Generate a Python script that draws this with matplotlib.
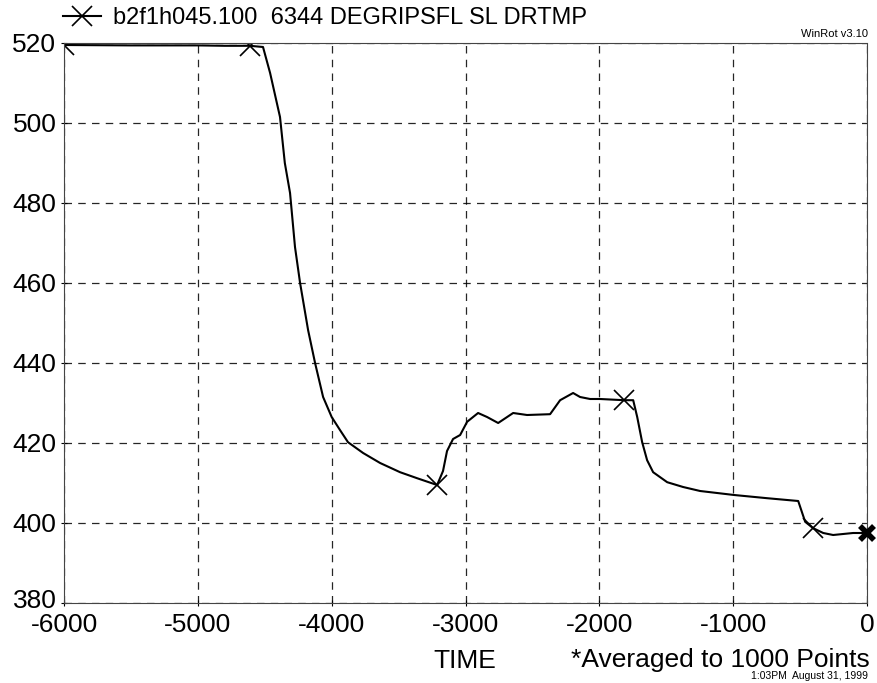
import matplotlib
matplotlib.use("Agg")
import matplotlib.pyplot as plt
from matplotlib.lines import Line2D
from matplotlib.transforms import ScaledTranslation

plt.rcParams['font.family'] = ['Liberation Sans', 'DejaVu Sans']

# ---- data ----
time = [-6000, -5500, -5000, -4800, -4610, -4513, -4460, -4386, -4350, -4311,
        -4274, -4236, -4176, -4124, -4064, -4000, -3937, -3878, -3765, -3638,
        -3489, -3362, -3212, -3168, -3138, -3093, -3040, -2988, -2906, -2839,
        -2756, -2644, -2540, -2368, -2293, -2196, -2144, -2069, -1994, -1815,
        -1747, -1717, -1680, -1643, -1598, -1493, -1374, -1247, -993, -746,
        -514, -484, -462, -402, -327, -253, -104, 0]
temp = [519.5, 519.4, 519.4, 519.3, 519.3, 519.0, 512.5, 501.5, 490.0, 482.5,
        469.0, 460.0, 448.2, 440.0, 431.5, 426.5, 423.2, 420.2, 417.5, 415.0,
        412.7, 411.2, 409.5, 413.0, 418.0, 421.0, 422.0, 425.3, 427.5, 426.5,
        425.0, 427.5, 427.0, 427.2, 430.7, 432.5, 431.5, 431.0, 431.0, 430.7,
        430.7, 426.5, 420.2, 415.7, 412.7, 410.2, 409.0, 408.0, 407.0, 406.2,
        405.5, 402.5, 400.3, 398.7, 397.5, 397.0, 397.5, 397.5]
marker_idx = [0, 4, 22, 39, 53]
end_idx = [len(time) - 1]

x_ticks = [-6000, -5000, -4000, -3000, -2000, -1000, 0]
y_ticks = [380, 400, 420, 440, 460, 480, 500, 520]
legend_label = "b2f1h045.100  6344 DEGRIPSFL SL DRTMP"

W, H = 878, 683
fig = plt.figure(figsize=(W / 100, H / 100), dpi=100)
ax = fig.add_axes([64 / W, (H - 603) / H, 803 / W, 560 / H])

ax.plot(time, temp, color='black', lw=1.5, marker='x', ms=15, mew=1.2,
        markevery=marker_idx)
ax.plot([time[i] for i in end_idx], [temp[i] for i in end_idx], ls='none',
        marker='x', ms=10, mew=4, color='black', clip_on=False, zorder=5)

ax.set_xlim(-6000, 0)
ax.set_ylim(380, 520)
ax.set_xticks(x_ticks)
ax.set_yticks(y_ticks)
ax.set_xticklabels([str(v) for v in x_ticks])
ax.set_yticklabels([str(v) for v in y_ticks])
ax.tick_params(axis='both', labelsize=19, length=5, width=0.8, direction='inout',
               colors='black')
ax.tick_params(axis='y', pad=3)
ax.tick_params(axis='x', pad=5)
ax.grid(True, color='black', ls=(0, (6, 5)), lw=0.9, alpha=0.85)
for s in ax.spines.values():
    s.set_linestyle((0, (2, 1)))
    s.set_linewidth(0.8)
    s.set_color('#444444')

# nudge the bottom y label up slightly so it does not collide with "-6000"
lbl = ax.get_yticklabels()[0]
lbl.set_transform(lbl.get_transform() + ScaledTranslation(0, 3 / 72, fig.dpi_scale_trans))

# legend-like title
handle = Line2D([], [], color='black', lw=1.5, marker='x', ms=15, mew=1.2)
fig.legend([handle], [legend_label], loc='center left',
           bbox_to_anchor=(63 / W, 1 - 18 / H),
           frameon=False, fontsize=17, handlelength=1.6, handletextpad=0.5,
           borderaxespad=0, borderpad=0)

fig.text(868 / W, 1 - 37 / H, "WinRot v3.10", ha='right', va='baseline', fontsize=8)
fig.text(465 / W, 1 - 661 / H, "TIME", ha='center', va='center', fontsize=19)
fig.text(870 / W, 1 - 660 / H, "*Averaged to 1000 Points", ha='right', va='center', fontsize=19)
fig.text(868 / W, 1 - 676 / H, "1:03PM  August 31, 1999", ha='right', va='center', fontsize=7.5)

fig.savefig("out.png", dpi=100)
